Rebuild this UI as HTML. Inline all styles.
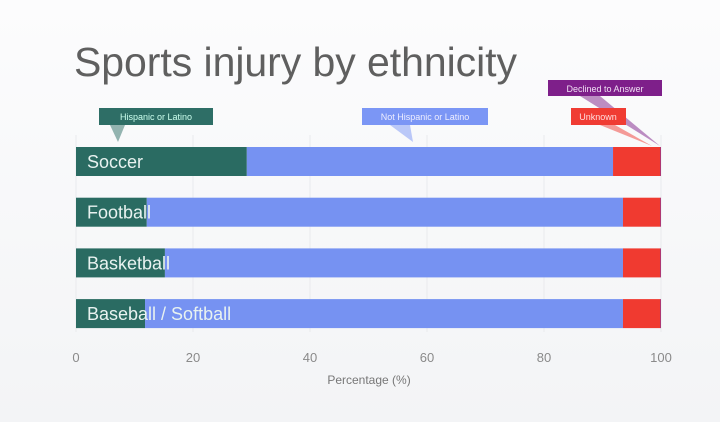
<!DOCTYPE html>
<html><head><meta charset="utf-8"><style>
html,body{margin:0;padding:0;width:720px;height:422px;overflow:hidden;background:linear-gradient(#fcfcfd,#f3f4f6);}
text{font-family:"Liberation Sans",sans-serif;}
</style></head><body>
<svg id="chart" width="720" height="422">
<text x="74" y="76" font-size="41" fill="#5f5f5f" textLength="443">Sports injury by ethnicity</text>
<g id="grid"></g><g id="bars"></g><g id="ticks"></g>
<text x="369" y="384" font-size="12" fill="#777" text-anchor="middle">Percentage (%)</text>
<g>
<polygon points="110,125 125,125 118,142" fill="#2e6e66" opacity="0.5"/>
<rect x="99" y="108" width="114" height="17" fill="#2e6e66"/>
<text x="156" y="120" font-size="9" fill="#cfe" text-anchor="middle">Hispanic or Latino</text>
<polygon points="390,125 410,125 413,142" fill="#7b96f5" opacity="0.5"/>
<rect x="362" y="108" width="126" height="17" fill="#7b96f5"/>
<text x="425" y="120" font-size="9" fill="#eef" text-anchor="middle">Not Hispanic or Latino</text>
<polygon points="580,96 600,96 660,146" fill="#7e1f8a" opacity="0.5"/>
<rect x="548" y="80" width="114" height="16" fill="#7e1f8a"/>
<text x="605" y="92" font-size="9" fill="#f0e0f4" text-anchor="middle">Declined to Answer</text>
<polygon points="600,125 615,125 652,146" fill="#f03c33" opacity="0.5"/>
<rect x="571" y="108" width="55" height="17" fill="#f03c33"/>
<text x="598" y="120" font-size="9" fill="#fdd" text-anchor="middle">Unknown</text>
</g>
</svg>
<script>
const categories=["Soccer","Football","Basketball","Baseball / Softball"];
const hispanic=[29.2,12.1,15.2,11.8];
const notHispanic=[62.6,81.4,78.3,81.7];
const unknown=[8.1,6.4,6.4,6.4];
const declined=[0.1,0.1,0.1,0.1];
const ticks=[0,20,40,60,80,100];
const ns="http://www.w3.org/2000/svg";
const x=v=>76+v*5.85;
const yTop=i=>147+i*50.7;
const bh=29;
const colors=["#2a6b62","#7692f2","#f03a30","#7e1f8a"];
const series=[hispanic,notHispanic,unknown,declined];
const sNames=["hispanic","not-hispanic","unknown","declined"];
function mk(tag,attrs,parent){const e=document.createElementNS(ns,tag);for(const k in attrs)e.setAttribute(k,attrs[k]);parent.appendChild(e);return e;}
const grid=document.getElementById('grid'),bars=document.getElementById('bars'),tk=document.getElementById('ticks');
ticks.forEach(t=>{
 const l=mk('line',{x1:x(t),x2:x(t),y1:135,y2:332,stroke:'#e9eaed','stroke-width':1},grid);
 
 
 const tx=mk('text',{x:x(t),y:362,'font-size':13,fill:'#8a8a8a','text-anchor':'middle'},tk);
 tx.textContent=t;
 
 
});
categories.forEach((c,i)=>{
 let acc=0;
 series.forEach((s,j)=>{
  const r=mk('rect',{x:x(acc),y:yTop(i),width:x(acc+s[i])-x(acc),height:bh,fill:colors[j]},bars);
  
  
  acc+=s[i];
 });
 const t=mk('text',{x:87,y:yTop(i)+21,'font-size':18,fill:'#e8f2f0'},bars);
 t.textContent=c;
 
 
});
</script>
</body></html>
